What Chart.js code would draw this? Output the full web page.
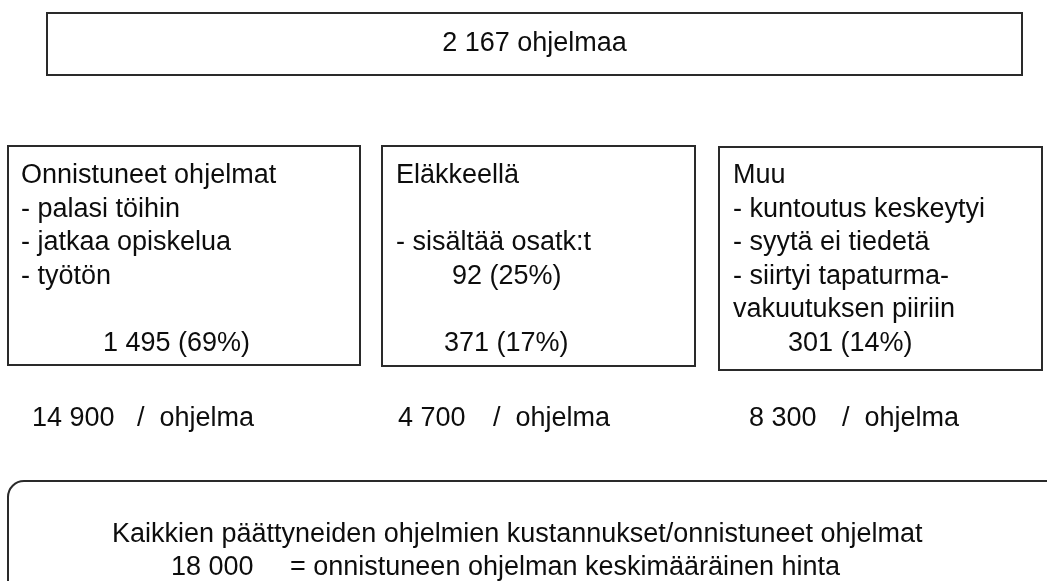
<!DOCTYPE html>
<html lang="fi">
<head>
<meta charset="utf-8">
<script src="https://cdn.jsdelivr.net/npm/chart.js@4"></script>
<style>
  html, body { margin: 0; padding: 0; background: #fff; }
  #wrap { width: 1047px; height: 581px; position: relative; }
</style>
</head>
<body>
<div id="wrap"><canvas id="chart_flow"></canvas></div>
<script>
// values
const totalPrograms = 2167;
const outcomeTitles = ['Onnistuneet ohjelmat', 'Eläkkeellä', 'Muu'];
const outcomeDetails = [
  ['- palasi töihin', '- jatkaa opiskelua', '- työtön'],
  ['', '- sisältää osatk:t'],
  ['- kuntoutus keskeytyi', '- syytä ei tiedetä', '- siirtyi tapaturma-', 'vakuutuksen piiriin']
];
const outcomeCounts = [1495, 371, 301];
const outcomeShares = [69, 17, 14];
const partPensionCount = 92;
const partPensionShare = 25;
const costPerProgram = [14900, 4700, 8300];
const averageCost = 18000;
const summaryText = 'Kaikkien päättyneiden ohjelmien kustannukset/onnistuneet ohjelmat';
const averageText = '= onnistuneen ohjelman keskimääräinen hinta';

// layout in chart units (x 0..1047, y 0..581 top-down)
const topBox = { x0: 47, x1: 1022, y0: 13, y1: 75 };
const outcomeBoxes = [
  { x0: 8, x1: 360, y0: 146, y1: 365, textX: 21, countX: 103 },
  { x0: 382, x1: 695, y0: 146, y1: 366, textX: 396, countX: 444 },
  { x0: 719, x1: 1042, y0: 147, y1: 370, textX: 733, countX: 788 }
];
const costPos = [{ numX: 32, slashX: 137 }, { numX: 398, slashX: 493 }, { numX: 749, slashX: 842 }];
const bottomBox = { x0: 8, x1: 1070, y0: 481, y1: 596, r: 16 };
const firstLineY = 183;
const lineStep = 33.5;
const costLineY = 426;
const ink = '#0d0d0d';
const fontSpec = '27px "Liberation Sans", Arial, Helvetica, sans-serif';

function fmt(n) {
  return String(n).replace(/\B(?=(\d{3})+(?!\d))/g, ' ');
}

const flowPlugin = {
  id: 'flowBoxes',
  afterDraw(chart) {
    const ctx = chart.ctx;
    const xs = chart.scales.x;
    const ys = chart.scales.y;
    const px = v => xs.getPixelForValue(v);
    const py = v => ys.getPixelForValue(v);

    ctx.save();
    ctx.strokeStyle = '#2a2a2a';
    ctx.lineWidth = 2;
    ctx.fillStyle = ink;
    ctx.font = fontSpec;
    ctx.textBaseline = 'alphabetic';

    // top box
    ctx.strokeRect(px(topBox.x0), py(topBox.y0), px(topBox.x1) - px(topBox.x0), py(topBox.y1) - py(topBox.y0));
    ctx.textAlign = 'center';
    ctx.fillText(fmt(totalPrograms) + ' ohjelmaa', px((topBox.x0 + topBox.x1) / 2), py(51));
    ctx.textAlign = 'left';

    // three outcome boxes
    outcomeBoxes.forEach((b, i) => {
      ctx.strokeRect(px(b.x0), py(b.y0), px(b.x1) - px(b.x0), py(b.y1) - py(b.y0));
      ctx.fillText(outcomeTitles[i], px(b.textX), py(firstLineY));
      outcomeDetails[i].forEach((line, j) => {
        if (line) ctx.fillText(line, px(b.textX), py(firstLineY + lineStep * (j + 1)));
      });
      ctx.fillText(fmt(outcomeCounts[i]) + ' (' + outcomeShares[i] + '%)', px(b.countX), py(firstLineY + lineStep * 5));
    });
    ctx.fillText(partPensionCount + ' (' + partPensionShare + '%)', px(452), py(firstLineY + lineStep * 3));

    // cost per program
    costPerProgram.forEach((c, i) => {
      ctx.fillText(fmt(c), px(costPos[i].numX), py(costLineY));
      ctx.fillText('/  ohjelma', px(costPos[i].slashX), py(costLineY));
    });

    // bottom rounded box
    const bx0 = px(bottomBox.x0), bx1 = px(bottomBox.x1), by0 = py(bottomBox.y0), by1 = py(bottomBox.y1);
    ctx.beginPath();
    ctx.roundRect(bx0, by0, bx1 - bx0, by1 - by0, bottomBox.r);
    ctx.stroke();
    ctx.fillText(summaryText, px(112), py(542));
    ctx.fillText(fmt(averageCost), px(171), py(575));
    ctx.fillText(averageText, px(290), py(575));
    ctx.restore();
  }
};

new Chart(document.getElementById('chart_flow'), {
  type: 'scatter',
  data: { datasets: [{ data: [], pointRadius: 0 }] },
  options: {
    responsive: true,
    maintainAspectRatio: false,
    animation: false,
    layout: { padding: 0 },
    scales: {
      x: { type: 'linear', min: 0, max: 1047, display: false },
      y: { type: 'linear', min: 0, max: 581, reverse: true, display: false }
    },
    plugins: { legend: { display: false }, tooltip: { enabled: false } }
  },
  plugins: [flowPlugin]
});
</script>
</body>
</html>
